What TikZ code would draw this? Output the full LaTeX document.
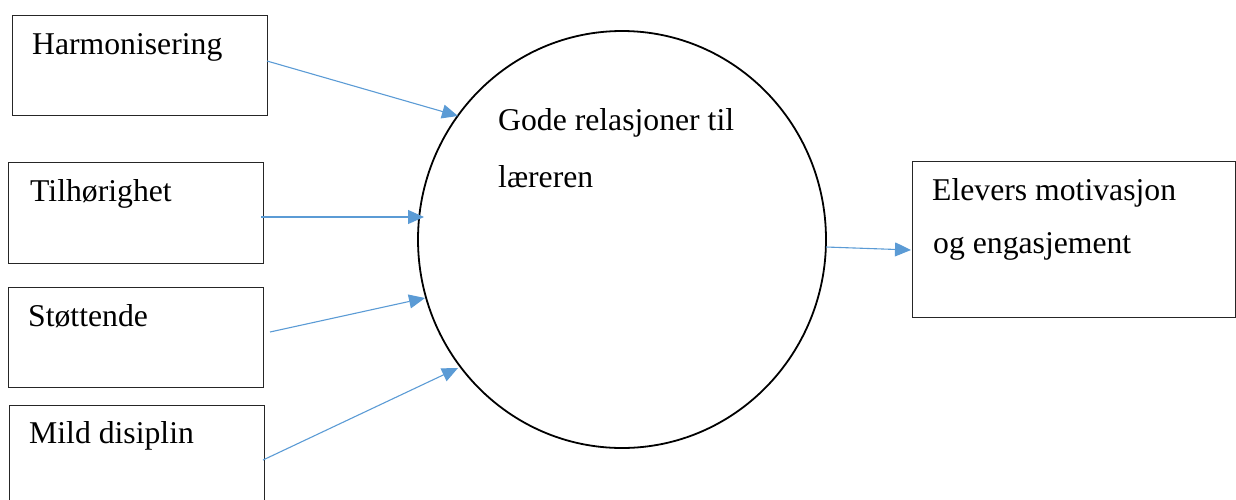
\documentclass[tikz,border=0pt]{standalone}
\usepackage{fontspec}
\setmainfont{Liberation Serif}
\usetikzlibrary{arrows.meta,shapes.geometric}
\definecolor{arrowblue}{HTML}{5B9BD5}
\begin{document}
\begin{tikzpicture}[x=1pt,y=-1pt,
  box/.style={draw=black!85, line width=1pt, rectangle, inner sep=0pt, outer sep=0pt},
  lbl/.style={anchor=base west, inner sep=0pt, font=\fontsize{31.7}{38}\selectfont},
  conn/.style={draw=arrowblue, line width=1.1pt, -{Triangle[length=16pt,width=14pt]}}]
\useasboundingbox (0,0) rectangle (1236,499);
% boxes
\node[box, minimum width=255pt, minimum height=100pt] (harm) at (139.5,65) {};
\node[box, minimum width=255pt, minimum height=101pt] (tilh) at (135.5,212.5) {};
\node[box, minimum width=255pt, minimum height=100pt] (stot) at (135.5,337) {};
\node[box, minimum width=255pt, minimum height=110pt] (mild) at (136.5,460) {};
\node[box, minimum width=323pt, minimum height=156pt] (elev) at (1073.5,239) {};
% circle
\node[draw=black, line width=1.8pt, ellipse, inner sep=0pt, minimum width=408pt, minimum height=417pt] (circ) at (622,239.5) {};
% texts
\node[lbl] (tharm) at (32,54) {Harmonisering};
\node[lbl] (ttilh) at (30,201) {Tilhørighet};
\node[lbl] (tstot) at (28,326) {Støttende};
\node[lbl] (tmild) at (29,443) {Mild disiplin};
\node[lbl] (tcirc1) at (498,130) {Gode relasjoner til};
\node[lbl] (tcirc2) at (498,187) {læreren};
\node[lbl] (telev1) at (932,200) {Elevers motivasjon};
\node[lbl] (telev2) at (933,253) {og engasjement};
% connector endpoints
\coordinate (s1) at (267,61);  \coordinate (e1) at (458,116);
\coordinate (s2) at (261,217); \coordinate (e2) at (424,217);
\coordinate (s3) at (270,332); \coordinate (e3) at (425,298);
\coordinate (s4) at (263,460); \coordinate (e4) at (458,368);
\coordinate (s5) at (826,247); \coordinate (e5) at (911,250);
\draw[conn] (s1) -- (e1);
\draw[conn] (s2) -- (e2);
\draw[conn] (s3) -- (e3);
\draw[conn] (s4) -- (e4);
\draw[conn] (s5) -- (e5);
\end{tikzpicture}
\end{document}
